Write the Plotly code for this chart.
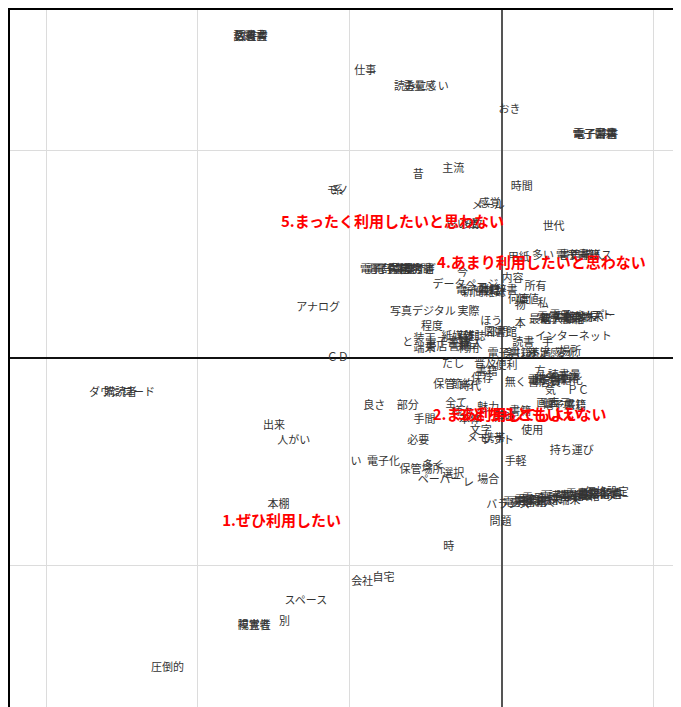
import plotly.graph_objects as go

# Column (word) coordinates: dimension 1 / dimension 2 scores
words = [
    "話題書", "教養書", "図書費", "仕事", "読みにくい", "重量感", "おき", "電子書籍", "電子辞書", "電子図書",
    "主流", "昔", "モノ", "系", "時間", "感覚", "メール", "世代", "思い出", "多数",
    "電子辞書", "電子書籍", "保存期間", "参考書", "重すぎ", "電子雑誌", "今",
    "用紙", "多い", "電子書籍", "サービス", "書籍購入",
    "データページ", "内容", "所有", "電子書籍", "雑誌", "新聞雑誌", "辞書",
    "価値", "何度", "物", "私",
    "最新", "電子書籍", "書籍端末", "電子ペーパー", "ソフト", "電子書籍端末", "購入価格",
    "アナログ", "写真デジタル", "実際", "ほう", "本", "程度", "図書館", "部門",
    "インターネット", "手", "読書", "と",
    "装丁", "端末", "書店", "電子書籍", "紙媒体", "書籍", "新刊", "購入", "雑誌",
    "利用", "電子書籍", "楽しみ", "満足感", "不満", "変化", "場所",
    "ＣＤ", "だし", "普及", "便利", "書籍",
    "保管", "節約", "保存", "時代", "無く",
    "方", "電子書籍", "読書量", "書店員", "購読料", "電子書籍化", "気", "ＰＣ",
    "良さ", "部分", "全て", "魅力",
    "画面", "表示", "電子書籍", "感じ",
    "手間", "使用", "文字", "メモ", "携帯", "ソフト",
    "本体", "様々", "興味", "書籍",
    "必要", "持ち運び", "い", "電子化", "手軽", "保管場所", "多く",
    "ペーパー", "選択", "レ", "場合",
    "バランス", "電子書籍", "書籍端末", "電子ペーパー", "読書端末", "電子書籍リーダー",
    "書籍化", "電子辞書", "価格設定", "電子書籍端末", "書籍購入", "購入価格", "電子図書館",
    "問題", "時", "出来", "人がい", "ダウンロード", "購読者", "本棚",
    "自宅", "会社", "スペース", "別", "視覚性", "障害者", "圧倒的",
]
word_dim1 = [
    -1.66, -1.65, -1.65, -0.90, -0.53, -0.54, 0.05, 0.61, 0.62, 0.61,
    -0.32, -0.55, -1.08, -1.08, 0.13, -0.08, -0.09, 0.34, -0.26, -0.20,
    -0.79, -0.75, -0.61, -0.55, -0.54, -0.70, -0.26,
    0.11, 0.27, 0.50, 0.58, 0.52,
    -0.24, 0.07, 0.22, -0.16, -0.08, -0.12, 0.03,
    0.17, 0.11, 0.12, 0.27,
    0.25, 0.39, 0.48, 0.53, 0.62, 0.45, 0.40,
    -1.21, -0.52, -0.22, -0.07, 0.12, -0.46, -0.01, -0.03,
    0.47, 0.30, 0.14, -0.62,
    -0.51, -0.51, -0.43, -0.36, -0.29, -0.28, -0.22, -0.20, -0.18,
    -0.22, 0.05, 0.12, 0.28, 0.25, 0.43, 0.45,
    -1.08, -0.32, -0.11, 0.03, -0.10,
    -0.38, -0.26, -0.13, -0.21, 0.09,
    0.25, 0.36, 0.41, 0.28, 0.32, 0.35, 0.32, 0.50,
    -0.84, -0.62, -0.30, -0.09,
    0.30, 0.38, 0.41, 0.48,
    -0.51, 0.20, -0.14, -0.16, -0.05, -0.03,
    -0.21, -0.26, 0.02, 0.12,
    -0.55, 0.46, -0.96, -0.78, 0.09, -0.53, -0.45,
    -0.41, -0.32, -0.22, -0.09,
    0.04, 0.15, 0.25, 0.35, 0.45, 0.54,
    0.60, 0.65, 0.69, 0.30, 0.20, 0.50, 0.60,
    -0.01, -0.35, -1.50, -1.37, -2.50, -2.51, -1.47,
    -0.78, -0.92, -1.29, -1.43, -1.63, -1.63, -2.20,
]
word_dim2 = [
    1.54, 1.54, 1.54, 1.38, 1.30, 1.30, 1.19, 1.07, 1.07, 1.07,
    0.91, 0.88, 0.80, 0.80, 0.82, 0.74, 0.73, 0.63, 0.64, 0.64,
    0.42, 0.42, 0.42, 0.42, 0.42, 0.42, 0.41,
    0.48, 0.49, 0.49, 0.49, 0.49,
    0.35, 0.38, 0.34, 0.32, 0.32, 0.31, 0.32,
    0.28, 0.28, 0.25, 0.26,
    0.18, 0.18, 0.19, 0.20, 0.20, 0.19, 0.18,
    0.24, 0.22, 0.22, 0.17, 0.16, 0.15, 0.12, 0.12,
    0.10, 0.07, 0.07, 0.07,
    0.09, 0.04, 0.05, 0.07, 0.10, 0.05, 0.10, 0.06, 0.10,
    0.04, 0.02, 0.02, 0.02, 0.02, 0.02, 0.03,
    0.00, -0.03, -0.03, -0.04, -0.07,
    -0.13, -0.13, -0.10, -0.14, -0.12,
    -0.07, -0.10, -0.09, -0.12, -0.11, -0.11, -0.16, -0.16,
    -0.23, -0.23, -0.22, -0.24,
    -0.22, -0.22, -0.23, -0.23,
    -0.30, -0.35, -0.35, -0.39, -0.39, -0.40,
    -0.30, -0.26, -0.29, -0.26,
    -0.40, -0.45, -0.50, -0.50, -0.50, -0.54, -0.52,
    -0.59, -0.56, -0.60, -0.59,
    -0.71, -0.70, -0.69, -0.68, -0.67, -0.67,
    -0.66, -0.66, -0.65, -0.69, -0.70, -0.67, -0.66,
    -0.79, -0.91, -0.33, -0.40, -0.17, -0.17, -0.71,
    -1.06, -1.08, -1.17, -1.27, -1.29, -1.29, -1.49,
]

# Row (response category) coordinates
categories = [
    "5.まったく利用したいと思わない",
    "4.あまり利用したいと思わない",
    "2.まあ利用してもよい",
    "3.どちらともいえない",
    "1.ぜひ利用したい",
]
cat_dim1 = [-0.72, 0.26, 0.03, 0.20, -1.45]
cat_dim2 = [0.65, 0.45, -0.28, -0.28, -0.79]

fig = go.Figure()
fig.add_trace(go.Scatter(
    x=word_dim1, y=word_dim2, text=words, mode="text",
    textposition="middle center",
    textfont=dict(family="Noto Sans CJK JP", size=11, color="#333333"),
    hoverinfo="skip", cliponaxis=False,
))
fig.add_trace(go.Scatter(
    x=cat_dim1, y=cat_dim2, text=categories, mode="text",
    textposition="middle center",
    textfont=dict(family="Noto Sans CJK JP", size=15, color="#ff0000", weight="bold"),
    hoverinfo="skip", cliponaxis=False,
))

fig.update_layout(
    width=673, height=699,
    margin=dict(l=0, r=0, t=0, b=0),
    paper_bgcolor="white", plot_bgcolor="white",
    showlegend=False,
    xaxis=dict(range=[-3.25, 1.178], tickvals=[-3, -2, -1, 1], showticklabels=False,
               showgrid=True, gridcolor="#dcdcdc", gridwidth=1, ticks="",
               zeroline=True, zerolinecolor="#555555", zerolinewidth=1.5, fixedrange=True),
    yaxis=dict(range=[-1.678, 1.683], tickvals=[-1, 1], showticklabels=False,
               showgrid=True, gridcolor="#dcdcdc", gridwidth=1, ticks="",
               zeroline=True, zerolinecolor="#111111", zerolinewidth=1.5, fixedrange=True),
    shapes=[
        dict(type="line", xref="paper", yref="paper", x0=0, x1=0, y0=0, y1=1,
             line=dict(color="black", width=4)),
        dict(type="line", xref="paper", yref="paper", x0=0, x1=1, y0=1, y1=1,
             line=dict(color="black", width=4)),
    ],
)

fig.write_html("out.html")
